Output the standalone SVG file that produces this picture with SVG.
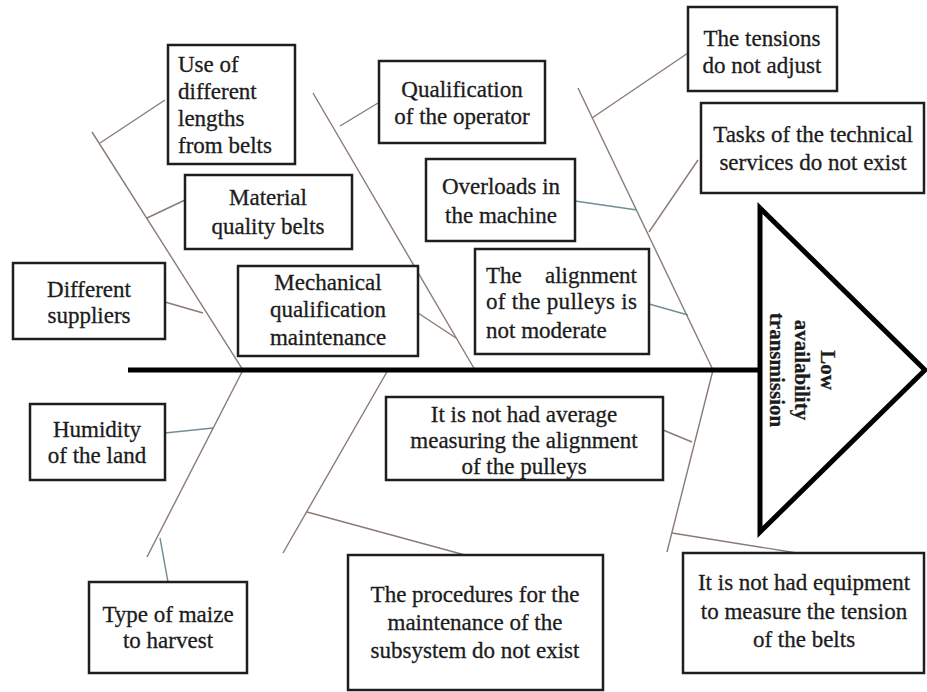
<svg xmlns="http://www.w3.org/2000/svg" width="927" height="692" viewBox="0 0 927 692">
<style>
.box{fill:#fff;stroke:#1e1e1e;stroke-width:2.5}
.t{font-family:"Liberation Serif","Times New Roman",serif;font-size:23px;fill:#1c1c1c;stroke:#1c1c1c;stroke-width:0.3}
.c{text-anchor:middle}
.bone{stroke:#8a7b73;stroke-width:1.4;fill:none}
.twig{stroke:#8a7b73;stroke-width:1.4;fill:none}
.teal{stroke:#6f8f94}
</style>
<rect width="927" height="692" fill="#ffffff"/>
<g id="connectors">
<line class="bone" x1="92" y1="132" x2="243" y2="370"/>
<line class="bone" x1="243" y1="370" x2="147" y2="557"/>
<line class="bone" x1="313" y1="93" x2="475" y2="370"/>
<line class="bone" x1="388" y1="370" x2="283" y2="553"/>
<line class="bone" x1="578" y1="88" x2="713" y2="370"/>
<line class="bone" x1="713" y1="370" x2="667" y2="552"/>
<line class="twig" x1="165" y1="100" x2="100" y2="143"/>
<line class="twig" x1="185" y1="200" x2="147" y2="218"/>
<line class="twig" x1="165" y1="302" x2="203" y2="313"/>
<line class="twig" x1="418" y1="313" x2="456" y2="338"/>
<line class="twig" x1="378" y1="103" x2="340" y2="126"/>
<line class="twig teal" x1="575" y1="201" x2="637" y2="210"/>
<line class="twig" x1="688" y1="53" x2="592" y2="118"/>
<line class="twig" x1="698" y1="160" x2="649" y2="232"/>
<line class="twig teal" x1="649" y1="304" x2="688" y2="315"/>
<line class="twig" x1="663" y1="430" x2="692" y2="442"/>
<line class="twig teal" x1="165" y1="433" x2="213" y2="428"/>
<line class="twig teal" x1="168" y1="582" x2="160" y2="538"/>
<line class="twig" x1="465" y1="555" x2="307" y2="512"/>
<line class="twig" x1="797" y1="553" x2="672" y2="533"/>
</g>
<g id="spine">
<line x1="128" y1="370" x2="760" y2="370" stroke="#000" stroke-width="5"/>
</g>
<g id="head">
<polygon points="760,208 925,370 760,532" fill="#fff" stroke="#000" stroke-width="5" stroke-linejoin="miter"/>
<text class="t" transform="translate(834,370) rotate(90)" text-anchor="middle" font-weight="bold" style="font-size:21px">
<tspan x="0" y="13">Low</tspan><tspan x="0" y="39">availability</tspan><tspan x="0" y="64">transmission</tspan></text>
</g>
<g id="n1">
<rect class="box" x="168" y="45" width="127" height="119"/>
<text class="t"><tspan x="178" y="72">Use of</tspan><tspan x="178" y="99">different</tspan><tspan x="178" y="126">lengths</tspan><tspan x="178" y="153">from belts</tspan></text>
</g>
<g id="n2">
<rect class="box" x="185" y="175" width="167" height="74"/>
<text class="t c"><tspan x="268" y="205">Material</tspan><tspan x="268" y="234">quality belts</tspan></text>
</g>
<g id="n3">
<rect class="box" x="13" y="263" width="152" height="76"/>
<text class="t c"><tspan x="89" y="297">Different</tspan><tspan x="89" y="323">suppliers</tspan></text>
</g>
<g id="n4">
<rect class="box" x="238" y="266" width="180" height="90"/>
<text class="t c"><tspan x="328" y="290">Mechanical</tspan><tspan x="328" y="317">qualification</tspan><tspan x="328" y="345">maintenance</tspan></text>
</g>
<g id="n5">
<rect class="box" x="379" y="61" width="166" height="82"/>
<text class="t c"><tspan x="462" y="97">Qualification</tspan><tspan x="462" y="124">of the operator</tspan></text>
</g>
<g id="n6">
<rect class="box" x="426" y="159" width="149" height="82"/>
<text class="t c"><tspan x="501" y="194">Overloads in</tspan><tspan x="501" y="223">the machine</tspan></text>
</g>
<g id="n7">
<rect class="box" x="688" y="7" width="149" height="84"/>
<text class="t c"><tspan x="762" y="46">The tensions</tspan><tspan x="762" y="73">do not adjust</tspan></text>
</g>
<g id="n8">
<rect class="box" x="701" y="103" width="223" height="90"/>
<text class="t c"><tspan x="813" y="142">Tasks of the technical</tspan><tspan x="813" y="170">services do not exist</tspan></text>
</g>
<g id="n9">
<rect class="box" x="475" y="249" width="174" height="105"/>
<text class="t"><tspan x="486" y="283">The</tspan><tspan x="637" y="283" text-anchor="end">alignment</tspan><tspan x="486" y="309" textLength="151">of the pulleys is</tspan><tspan x="486" y="338">not moderate</tspan></text>
</g>
<g id="n10">
<rect class="box" x="386" y="397" width="277" height="83"/>
<text class="t c"><tspan x="524" y="422">It is not had average</tspan><tspan x="524" y="448">measuring the alignment</tspan><tspan x="524" y="474">of the pulleys</tspan></text>
</g>
<g id="n11">
<rect class="box" x="30" y="404" width="135" height="76"/>
<text class="t c"><tspan x="97" y="437">Humidity</tspan><tspan x="97" y="463">of the land</tspan></text>
</g>
<g id="n12">
<rect class="box" x="89" y="582" width="158" height="91"/>
<text class="t c"><tspan x="168" y="622">Type of maize</tspan><tspan x="168" y="648">to harvest</tspan></text>
</g>
<g id="n13">
<rect class="box" x="348" y="555" width="255" height="135"/>
<text class="t c"><tspan x="475" y="602">The procedures for the</tspan><tspan x="475" y="630">maintenance of the</tspan><tspan x="475" y="658">subsystem do not exist</tspan></text>
</g>
<g id="n14">
<rect class="box" x="683" y="553" width="241" height="120"/>
<text class="t c"><tspan x="804" y="590">It is not had equipment</tspan><tspan x="804" y="619">to measure the tension</tspan><tspan x="804" y="647">of the belts</tspan></text>
</g>
</svg>
